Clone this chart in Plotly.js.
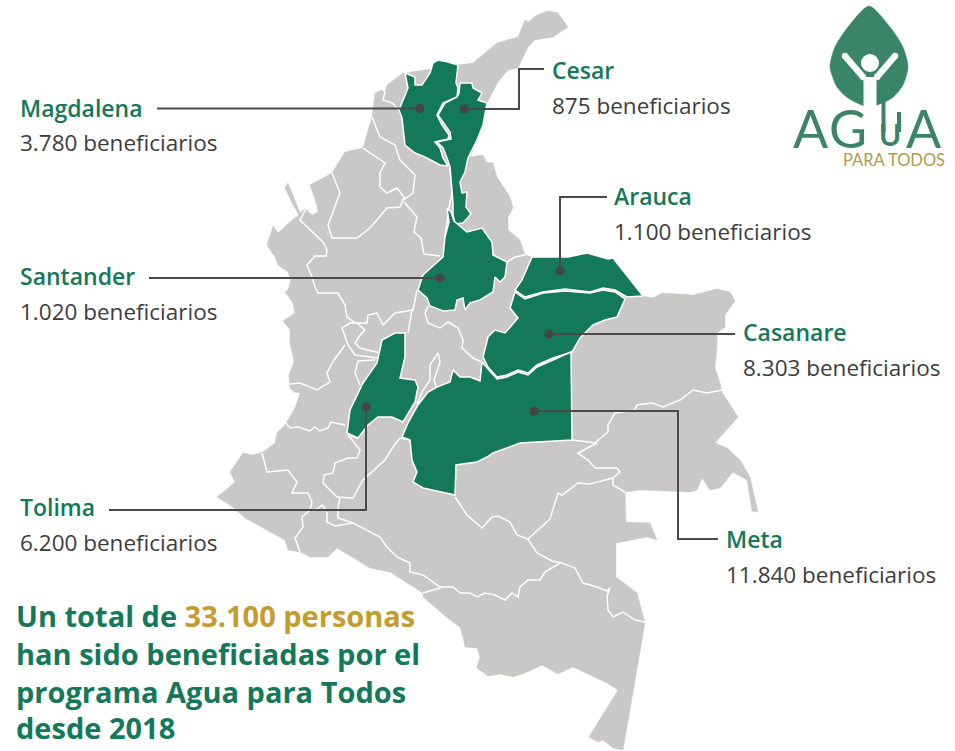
<!DOCTYPE html>
<html><head><meta charset="utf-8">
<script src="https://cdn.plot.ly/plotly-3.0.1.min.js"></script>
<style>html,body{margin:0;padding:0;background:#fff}</style></head>
<body><div id="chart" style="width:955px;height:751px"></div>
<script>
// ---- data ----
const departamentos = ["Magdalena","Cesar","Arauca","Santander","Casanare","Meta","Tolima"];
const beneficiarios = [3780,875,1100,1020,8303,11840,6200];
const totalPersonas = 33100;

// ---- map geometry (map units on the 955x751 sheet) ----
const colombia = [[458,65],[473,63],[497,43],[518,37],[525,20],[528,22],[537,15],[548,11],[558,13],[568,27],[553,37],[535,40],[528,47],[518,68],[508,70],[498,82],[487,103],[483,125],[477,140],[470,157],[483,155],[486,162],[493,163],[497,177],[510,197],[513,208],[508,217],[508,230],[520,240],[525,255],[532,257],[560,257],[568,257],[587,253],[608,259],[613,258],[643,296],[653,298],[662,293],[693,295],[717,289],[730,292],[735,301],[725,315],[725,327],[717,333],[717,347],[715,368],[720,383],[722,392],[738,417],[715,443],[727,448],[740,460],[750,477],[758,512],[752,511],[747,480],[733,472],[720,488],[710,490],[702,478],[697,490],[690,492],[640,490],[625,492],[626,522],[650,523],[657,540],[647,537],[633,540],[616,543],[616,577],[637,593],[645,623],[623,750],[613,748],[603,740],[598,742],[589,737],[618,690],[607,683],[590,675],[573,667],[558,674],[542,665],[525,673],[513,677],[500,674],[488,676],[477,668],[480,657],[477,648],[465,647],[463,637],[460,627],[450,620],[423,597],[423,593],[407,583],[390,572],[370,568],[353,558],[337,548],[328,557],[310,557],[300,552],[288,550],[285,540],[267,530],[245,518],[230,505],[217,497],[227,489],[235,482],[230,472],[243,453],[253,455],[263,452],[275,443],[277,433],[285,425],[288,420],[295,408],[300,393],[294,392],[290,388],[289,375],[294,362],[290,343],[290,330],[283,321],[295,313],[293,303],[285,292],[288,290],[291,280],[288,272],[278,265],[275,257],[267,245],[273,226],[278,233],[292,220],[299,215],[293,205],[285,188],[288,183],[292,193],[300,213],[306,208],[308,212],[313,215],[318,212],[317,205],[310,185],[332,173],[345,152],[363,148],[368,132],[372,117],[375,93],[382,90],[385,93],[387,85],[403,73],[405,73]];

const magdalena = [[405,73],[415,77],[415,85],[422,85],[430,73],[433,63],[438,60],[448,62],[458,65],[456,83],[458,88],[457,97],[443,103],[437,115],[442,125],[449,135],[448,139],[435,142],[440,148],[443,158],[448,166],[440,165],[425,157],[415,153],[405,145],[403,130],[402,118],[399,110],[408,88]];
const cesar = [[460,83],[472,83],[473,88],[482,93],[478,100],[487,103],[483,125],[477,140],[468,158],[465,172],[460,182],[462,193],[467,192],[466,207],[471,214],[463,223],[455,224],[453,215],[453,203],[452,193],[450,167],[447,158],[443,148],[437,142],[451,139],[450,132],[438,115],[445,103],[457,97],[459,93]];
const santander = [[447,208],[451,212],[454,221],[467,232],[482,228],[492,242],[493,255],[507,262],[505,277],[500,282],[495,277],[493,292],[480,300],[470,303],[465,310],[463,298],[457,300],[455,310],[443,311],[430,306],[427,298],[418,290],[423,275],[443,257],[445,237],[449,222]];
const arauca = [[532,257],[560,257],[568,257],[587,253],[608,259],[613,258],[643,296],[627,297],[615,290],[603,288],[590,292],[565,289],[543,292],[525,297],[515,290],[522,280]];
const casanare = [[515,292],[525,299],[543,293],[565,291],[590,293],[603,290],[615,292],[625,299],[617,317],[605,320],[593,325],[580,338],[572,352],[553,358],[537,365],[528,373],[518,370],[507,375],[497,377],[488,367],[483,357],[488,337],[495,330],[505,333],[518,318],[510,308]];
const meta = [[482,362],[480,381],[470,377],[460,377],[453,370],[450,382],[437,387],[428,392],[418,405],[408,423],[402,437],[410,440],[412,460],[417,472],[413,482],[423,488],[455,495],[456,465],[477,462],[487,457],[493,453],[520,443],[537,442],[572,440],[571,352],[553,360],[537,367],[528,375],[518,372],[507,377],[497,379],[488,369]];
const tolima = [[382,340],[395,333],[405,333],[405,357],[400,378],[415,380],[418,387],[415,402],[403,422],[392,417],[378,417],[368,425],[358,438],[347,433],[350,410],[363,383],[377,363]];

const limites = [
 [[385,92],[383,100],[392,103],[399,110]],
 [[372,117],[380,137],[395,145],[400,160],[415,175],[413,193],[403,200]],
 [[363,148],[385,163],[380,173],[380,187],[387,193],[397,188],[404,197],[400,207],[387,208],[370,228],[357,238],[332,238],[328,225],[340,193],[332,173]],
 [[404,202],[417,217],[414,232],[421,238],[424,254],[440,256]],
 [[312,207],[307,207],[300,220],[323,242],[327,250],[326,256],[315,256],[307,265],[312,277],[315,287],[318,293],[338,293],[345,305],[347,317],[357,324]],
 [[417,290],[413,310],[395,313],[383,325],[377,313],[368,315],[367,323],[350,323],[342,328],[348,345],[355,355],[378,358]],
 [[358,324],[365,330],[360,335],[355,343],[360,348],[380,353]],
 [[345,345],[332,363],[327,373],[330,382],[317,390],[300,383],[290,384]],
 [[375,360],[358,361],[355,373],[360,385]],
 [[285,422],[290,428],[298,427],[310,431],[315,427],[320,431],[328,428],[331,422],[345,425]],
 [[348,435],[360,450],[357,458],[348,458],[335,463],[333,473],[324,475],[323,483],[337,497],[353,498],[363,480],[385,460],[393,447],[400,438],[410,440]],
 [[340,497],[338,508],[338,518],[353,523]],
 [[327,512],[327,522],[335,526],[353,523],[380,537],[387,547],[397,557],[410,563],[410,572],[423,575],[440,587],[453,587],[460,593],[470,593],[477,597],[485,593],[495,595],[505,600],[512,593],[518,597],[520,587],[528,580],[540,580],[545,572],[560,563]],
 [[423,593],[443,587]],
 [[262,453],[267,472],[288,470],[297,482],[292,493],[308,493],[312,502],[310,510],[302,517],[303,527],[295,538],[300,552]],
 [[310,510],[317,509],[322,505],[327,511]],
 [[455,497],[467,515],[482,528],[492,517],[498,516],[510,522],[517,535],[528,539],[537,553],[552,561],[562,563],[575,568],[583,583],[597,587],[607,591],[610,588],[607,596],[608,610],[613,617],[623,612],[635,620],[645,622]],
 [[528,539],[550,519],[558,493],[562,495],[578,483],[590,484],[613,478]],
 [[572,440],[597,443],[578,453],[588,460],[595,468],[617,468],[620,472],[613,478],[613,485],[625,492]],
 [[595,443],[608,432],[608,425],[615,413],[635,410],[637,405],[652,403],[663,407],[680,400],[693,390],[707,393],[722,390]],
 [[412,310],[408,333]],
 [[428,306],[425,313],[428,323],[440,328],[448,322],[458,328],[463,340],[462,348],[473,358],[482,362]],
 [[417,404],[423,390],[430,380],[430,365],[438,353],[440,362],[434,380],[436,387],[425,397],[417,405]],
 [[450,167],[452,193],[449,207],[445,237]],
 [[493,255],[507,262],[515,257],[525,255]],
 [[348,435],[358,438]]
];

// ---- callouts: leader path + department anchor ----
const conectores = {
 Magdalena:[[157,108.5],[420,108.5]],
 Cesar:[[544,69],[519,69],[519,109],[464,109]],
 Arauca:[[607,197],[560,197],[560,271]],
 Santander:[[149,278],[440,278]],
 Casanare:[[735,334],[549,334]],
 Meta:[[718,539],[678,539],[678,411],[534,411]],
 Tolima:[[109,510],[366,510],[366,407]]
};
const rotulos = {
 Magdalena:[19,108,142], Cesar:[551,70,105], Arauca:[613,196,231], Santander:[19,276,311],
 Casanare:[742,332,367], Meta:[725,539,574], Tolima:[19,507,542]
};

// ---- logo geometry ----
const hoja = [[869,6],[890,27],[903,47],[908,67],[903,85],[892,98],[869,107],[848,98],[837,87],[830,67],[835,47],[848,27]];
const brazoIzq = [[845,56],[863,77]];
const brazoDer = [[895,56],[877,77]];
const tronco = [[870,77],[870,118]];
const cabeza = [[870,63]];

// ---- colours ----
const GRIS="#c9c8c7", VERDE="#14785a", VERDE2="#3a8468", ORO="#c49c2e", ORO2="#b09a4e", TINTA="#3d3d3d", FONT="'Open Sans', Lato, sans-serif", FONT2="Lato, sans-serif";

const xs=p=>p.map(a=>a[0]), ys=p=>p.map(a=>a[1]);
const miles=n=>String(n).replace(/\B(?=(\d{3})+(?!\d))/g,".");
const traces=[];
function poly(p,fill,line,w){traces.push({type:"scatter",mode:"lines",x:xs(p).concat(p[0][0]),y:ys(p).concat(p[0][1]),fill:"toself",fillcolor:fill,line:{color:line,width:w},hoverinfo:"skip"});}
function path(p,color,w,shape){traces.push({type:"scatter",mode:"lines",x:xs(p),y:ys(p),line:{color:color,width:w,shape:shape||"linear"},hoverinfo:"skip"});}

poly(colombia,GRIS,GRIS,0.5);
limites.forEach(l=>path(l,"#ffffff",1.5));
[magdalena,cesar,santander,arauca,casanare,meta,tolima].forEach(d=>poly(d,VERDE,"#ffffff",1.5));
departamentos.forEach(d=>{
  const c=conectores[d];
  path(c,"#4a4a4a",2);
});
const anclas=departamentos.map(d=>{const c=conectores[d];return c[c.length-1];});
traces.push({type:"scatter",mode:"markers",x:xs(anclas),y:ys(anclas),marker:{color:"#454545",size:9},hoverinfo:"skip"});

// logo
traces.push({type:"scatter",mode:"lines",x:xs(hoja).concat(hoja[0][0]),y:ys(hoja).concat(hoja[0][1]),fill:"toself",fillcolor:VERDE2,line:{color:VERDE2,width:0.5,shape:"spline",smoothing:0.7},hoverinfo:"skip"});
[brazoIzq,brazoDer].forEach(b=>traces.push({type:"scatter",mode:"lines+markers",x:xs(b),y:ys(b),line:{color:"#fff",width:6.5},marker:{color:"#fff",size:6.5},hoverinfo:"skip"}));
path(tronco,"#fff",13);
traces.push({type:"scatter",mode:"markers",x:xs(cabeza),y:ys(cabeza),marker:{color:"#fff",size:18},hoverinfo:"skip"});
path([[883.5,100],[883.5,132]],VERDE2,4);
path([[899,112],[899,132]],VERDE2,4);

const ann=[];
function txt(x,y,t,size,color,weight,family){ann.push({xref:"x",yref:"y",x:x,y:y,text:t,showarrow:false,xanchor:"left",yanchor:"middle",align:"left",borderpad:0,font:{family:family||FONT,size:size,color:color,weight:weight||400}});}
departamentos.forEach((d,i)=>{
  const r=rotulos[d];
  txt(r[0],r[1],d,23,VERDE,600);
  txt(r[0],r[2],miles(beneficiarios[i])+" beneficiarios",22.5,TINTA,400);
});
const S=29;
txt(15,615,'Un total de <span style="color:'+ORO+'">'+miles(totalPersonas)+' personas</span>',S,VERDE,700);
txt(15,653,'han sido beneficiadas por el',S,VERDE,700);
txt(15,691,'programa Agua para Todos',S,VERDE,700);
txt(15,727,'desde 2018',S,VERDE,700);
// logo text
txt(792,128,"A",52,VERDE2,400,FONT2);
txt(828,128,"G",52,VERDE2,400,FONT2);
txt(878,134,"U",30,VERDE2,700,FONT2);
txt(905,128,"A",52,VERDE2,400,FONT2);
txt(842,160,"PARA TODOS",16.5,ORO2,400,FONT2);

Plotly.newPlot("chart",traces,{
  width:955,height:751,margin:{l:0,r:0,t:0,b:0},showlegend:false,
  paper_bgcolor:"#fff",plot_bgcolor:"#fff",
  xaxis:{range:[0,955],visible:false,fixedrange:true},
  yaxis:{range:[751,0],visible:false,fixedrange:true},
  annotations:ann
},{displayModeBar:false,staticPlot:true});
</script></body></html>
